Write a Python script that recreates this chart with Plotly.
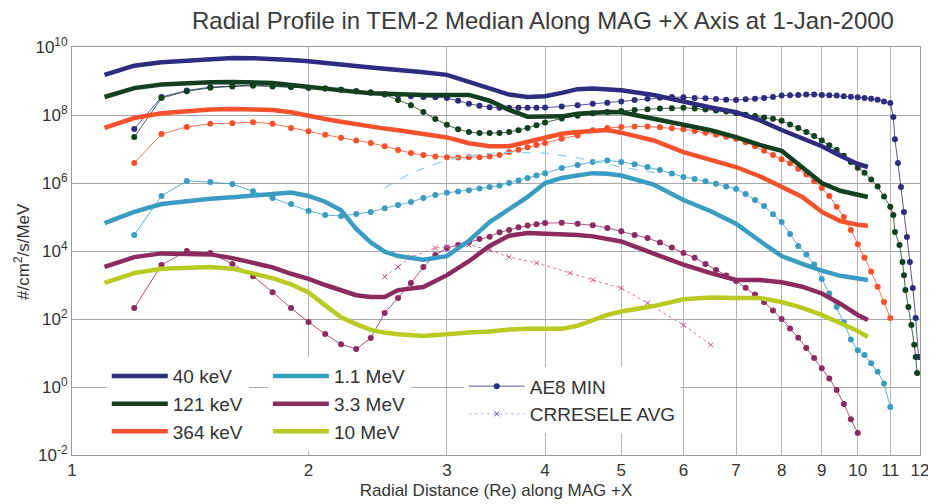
import plotly.graph_objects as go

FONT = "Liberation Sans, Arial, sans-serif"

# TEM-2 median profiles: radial distance (Re) and log10 flux (#/cm2/s/MeV)
r_median = [1.1, 1.2, 1.3, 1.4, 1.5, 1.6, 1.7, 1.8, 1.9, 2.0,
            2.1, 2.2, 2.3, 2.4, 2.5, 2.6, 2.8, 3.0,
            3.2, 3.4, 3.6, 3.8, 4.0, 4.2, 4.4, 4.6, 4.8, 5.0,
            5.5, 6.0, 6.5, 7.0, 7.5, 8.0, 8.5, 9.0, 9.5, 10.0, 10.3]
med_40kev = [9.18, 9.45, 9.55, 9.60, 9.65, 9.68, 9.67, 9.66, 9.62, 9.58,
             9.54, 9.50, 9.45, 9.40, 9.36, 9.33, 9.26, 9.18,
             8.98, 8.78, 8.60, 8.53, 8.55, 8.65, 8.76, 8.78, 8.76, 8.73,
             8.59, 8.38, 8.22, 8.08, 7.85, 7.56, 7.32, 7.08, 6.80, 6.56, 6.47]
med_121kev = [8.53, 8.79, 8.90, 8.94, 8.96, 8.97, 8.96, 8.94, 8.88, 8.82,
              8.77, 8.72, 8.68, 8.64, 8.62, 8.60, 8.59, 8.59,
              8.59, 8.42, 8.15, 7.95, 7.94, 7.96, 8.04, 8.08, 8.09, 8.08,
              7.88, 7.72, 7.55, 7.35, 7.12, 6.95, 6.47, 6.00, 5.77, 5.64, 5.59]
med_364kev = [7.62, 7.91, 8.05, 8.12, 8.16, 8.18, 8.18, 8.15, 8.08, 7.97,
              7.88, 7.80, 7.72, 7.66, 7.60, 7.55, 7.44, 7.34,
              7.17, 7.08, 7.08, 7.22, 7.35, 7.45, 7.50, 7.53, 7.56, 7.48,
              7.25, 6.91, 6.68, 6.47, 6.20, 5.88, 5.59, 5.15, 4.88, 4.77, 4.74]
med_1100kev = [4.82, 5.15, 5.38, 5.47, 5.54, 5.58, 5.62, 5.66, 5.72, 5.62,
               5.45, 5.20, 4.65, 4.25, 3.98, 3.85, 3.74, 3.85,
               4.30, 4.85, 5.22, 5.59, 6.00, 6.15, 6.22, 6.29, 6.27, 6.22,
               5.95, 5.50, 5.17, 4.80, 4.30, 3.85, 3.62, 3.42, 3.27, 3.18, 3.15]
med_3300kev = [3.53, 3.82, 3.93, 3.93, 3.90, 3.79, 3.66, 3.52, 3.33, 3.18,
               3.00, 2.85, 2.70, 2.65, 2.65, 2.85, 2.94, 3.29,
               3.70, 4.15, 4.45, 4.53, 4.52, 4.50, 4.47, 4.43, 4.35, 4.28,
               3.92, 3.60, 3.35, 3.15, 3.15, 3.08, 2.95, 2.75, 2.45, 2.12, 1.97]
med_10mev = [3.06, 3.35, 3.48, 3.52, 3.53, 3.48, 3.35, 3.20, 3.02, 2.78,
             2.40, 2.05, 1.85, 1.68, 1.60, 1.55, 1.50, 1.56,
             1.60, 1.63, 1.69, 1.71, 1.71, 1.71, 1.80, 1.98, 2.12, 2.22,
             2.38, 2.58, 2.63, 2.62, 2.62, 2.50, 2.33, 2.12, 1.88, 1.65, 1.47]

# AE8 MIN model: radial grid (Re) and log10 flux
r_ae8 = [1.2, 1.3, 1.4, 1.5, 1.6, 1.7, 1.8, 1.9, 2.0, 2.1,
         2.2, 2.3, 2.4, 2.5, 2.6, 2.7, 2.8, 2.9, 3.0, 3.1,
         3.2, 3.3, 3.4, 3.5, 3.6, 3.7, 3.8, 3.9, 4.0, 4.2,
         4.4, 4.6, 4.8, 5.0, 5.2, 5.4, 5.6, 5.8, 6.0, 6.2,
         6.4, 6.6, 6.8, 7.0, 7.2, 7.4, 7.6, 7.8, 8.0, 8.2,
         8.4, 8.6, 8.8, 9.0, 9.2, 9.4, 9.6, 9.8, 10.0, 10.2,
         10.4, 10.6, 10.8, 11.0]
ae8_40kev = [7.59, 8.53, 8.72, 8.82, 8.85, 8.88, 8.85, 8.82, 8.80, 8.78,
             8.74, 8.70, 8.66, 8.62, 8.58, 8.55, 8.53, 8.52, 8.50, 8.42,
             8.33, 8.27, 8.23, 8.21, 8.21, 8.21, 8.21, 8.21, 8.22, 8.25,
             8.29, 8.33, 8.36, 8.40, 8.44, 8.48, 8.51, 8.53, 8.52, 8.50,
             8.49, 8.47, 8.45, 8.44, 8.46, 8.48, 8.50, 8.53, 8.57, 8.58,
             8.59, 8.60, 8.60, 8.59, 8.58, 8.57, 8.55, 8.54, 8.52, 8.50,
             8.48, 8.45, 8.40, 8.35]
ae8_121kev = [7.35, 8.50, 8.70, 8.80, 8.84, 8.86, 8.84, 8.82, 8.80, 8.78,
              8.74, 8.70, 8.66, 8.60, 8.44, 8.29, 8.09, 7.88, 7.71, 7.58,
              7.50, 7.47, 7.47, 7.47, 7.50, 7.55, 7.62, 7.70, 7.78, 7.90,
              7.98, 8.05, 8.09, 8.12, 8.15, 8.17, 8.19, 8.20, 8.21, 8.19,
              8.16, 8.13, 8.10, 8.05, 8.01, 7.97, 7.93, 7.89, 7.83, 7.72,
              7.62, 7.50, 7.38, 7.25, 7.11, 6.97, 6.80, 6.62, 6.45, 6.30,
              6.10, 5.90, 5.60, 5.30]
ae8_364kev = [6.59, 7.44, 7.65, 7.74, 7.76, 7.79, 7.74, 7.62, 7.52, 7.42,
              7.33, 7.25, 7.18, 7.08, 6.97, 6.88, 6.82, 6.78, 6.76, 6.75,
              6.76, 6.76, 6.78, 6.82, 6.91, 6.98, 7.05, 7.12, 7.18, 7.30,
              7.40, 7.55, 7.62, 7.65, 7.66, 7.66, 7.64, 7.61, 7.58, 7.53,
              7.48, 7.42, 7.36, 7.30, 7.20, 7.08, 6.95, 6.82, 6.70, 6.58,
              6.42, 6.25, 6.05, 5.85, 5.62, 5.30, 5.00, 4.62, 4.20, 3.80,
              3.40, 2.95, 2.50, 2.03]
ae8_1100kev = [4.47, 5.62, 6.06, 6.03, 5.97, 5.76, 5.56, 5.38, 5.18, 5.06,
               5.03, 5.09, 5.15, 5.26, 5.35, 5.44, 5.56, 5.65, 5.71, 5.75,
               5.79, 5.84, 5.88, 5.93, 6.00, 6.07, 6.15, 6.22, 6.29, 6.44,
               6.53, 6.62, 6.66, 6.62, 6.55, 6.47, 6.38, 6.28, 6.18, 6.12,
               6.05, 5.98, 5.90, 5.82, 5.68, 5.50, 5.32, 5.08, 4.85, 4.50,
               4.15, 3.90, 3.60, 3.18, 2.75, 2.35, 1.90, 1.40, 1.08, 0.94,
               0.70, 0.45, 0.10, -0.59]
ae8_3300kev = [2.32, 3.59, 4.00, 3.94, 3.62, 3.26, 2.79, 2.32, 1.91, 1.56,
               1.26, 1.12, 1.44, 2.18, 2.62, 3.06, 3.53, 3.88, 4.09, 4.18,
               4.26, 4.35, 4.42, 4.55, 4.62, 4.70, 4.75, 4.79, 4.82, 4.83,
               4.80, 4.76, 4.68, 4.58, 4.47, 4.38, 4.25, 4.10, 3.94, 3.80,
               3.62, 3.44, 3.28, 3.12, 2.92, 2.72, 2.50, 2.25, 2.00, 1.72,
               1.45, 1.15, 0.85, 0.55, 0.25, -0.09, -0.50, -0.95, -1.35, None,
               None, None, None, None]

# AE8 MIN steep drop at the outer edge (40 keV and 121 keV)
r_ae8_40kev_tail = [11.1, 11.15, 11.25, 11.35, 11.45, 11.55, 11.65, 11.75, 11.85, 11.95]
ae8_40kev_tail = [7.94, 7.29, 6.59, 5.88, 5.15, 4.41, 3.68, 2.91, 2.03, 0.88]
r_ae8_121kev_tail = [11.1, 11.15, 11.3, 11.4, 11.45, 11.5, 11.6, 11.7, 11.8, 11.85, 11.9]
ae8_121kev_tail = [5.06, 4.56, 4.18, 3.68, 3.29, 2.85, 2.35, 1.82, 1.24, 0.88, 0.41]

# CRRESELE AVG model
r_crres_1100kev = [2.5, 2.7, 3.0, 3.3, 3.6, 4.0, 4.4, 4.8, 5.2, 5.6]
crres_1100kev = [5.85, 6.30, 6.68, 6.85, 6.90, 6.88, 6.74, 6.55, 6.40, 6.28]
r_crres_3300kev = [2.5, 2.6, 2.7, 2.9, 3.0, 3.2, 3.4, 3.6, 3.9, 4.3, 4.6, 5.0, 5.4, 6.0, 6.5]
crres_3300kev = [3.24, 3.53, 3.82, 4.09, 4.12, 4.18, 4.03, 3.82, 3.65, 3.35,
                 3.15, 2.91, 2.47, 1.82, 1.24]

energies = ["40 keV", "121 keV", "364 keV", "1.1 MeV", "3.3 MeV", "10 MeV"]
colors = ["#2d2c7e", "#123f1f", "#f4512c", "#3b9cc2", "#8c2b5d", "#b8cb22"]

x_ticks = [1, 2, 3, 4, 5, 6, 7, 8, 9, 10, 11, 12]
y_exponents = [10, 8, 6, 4, 2, 0, -2]


def to_flux(logs):
    return [None if v is None else 10 ** v for v in logs]


fig = go.Figure()

# AE8 MIN (dotted profiles)
ae8_sets = [
    (r_ae8 + r_ae8_40kev_tail, ae8_40kev + ae8_40kev_tail, colors[0]),
    (r_ae8 + r_ae8_121kev_tail, ae8_121kev + ae8_121kev_tail, colors[1]),
    (r_ae8, ae8_364kev, colors[2]),
    (r_ae8, ae8_1100kev, colors[3]),
    (r_ae8, ae8_3300kev, colors[4]),
]
for i, (r, lg, c) in enumerate(ae8_sets):
    fig.add_trace(go.Scatter(
        x=r, y=to_flux(lg), mode="lines+markers",
        name="AE8 MIN", legend="legend3", showlegend=(i == 0),
        line=dict(color=c, width=0.8),
        marker=dict(color=c, size=6),
    ))

# CRRESELE AVG (thin dashed with x markers)
fig.add_trace(go.Scatter(
    x=r_crres_1100kev, y=to_flux(crres_1100kev), mode="lines",
    line=dict(color="#8fcfe6", width=1.2, dash="dash"), showlegend=False,
))
fig.add_trace(go.Scatter(
    x=r_crres_3300kev, y=to_flux(crres_3300kev), mode="lines+markers",
    line=dict(color="#d878a2", width=1, dash="dot"),
    marker=dict(symbol="x-thin", size=5, color="#c0508a", line=dict(width=1, color="#c0508a")),
    showlegend=False,
))
fig.add_trace(go.Scatter(
    x=[None], y=[None], mode="lines+markers", name="CRRESELE AVG", legend="legend3",
    line=dict(color="#b4b4e4", width=1, dash="dot"),
    marker=dict(symbol="x-thin", size=5, color="#4a4aa8", line=dict(width=1, color="#4a4aa8")),
))

# TEM-2 median (solid)
medians = [med_40kev, med_121kev, med_364kev, med_1100kev, med_3300kev, med_10mev]
for i, (name, lg, c) in enumerate(zip(energies, medians, colors)):
    fig.add_trace(go.Scatter(
        x=r_median, y=to_flux(lg), mode="lines", name=name,
        legend="legend" if i < 3 else "legend2",
        line=dict(color=c, width=4.5),
    ))

legend_style = dict(
    bgcolor="white", borderwidth=0, yanchor="top", xanchor="left",
    font=dict(family=FONT, size=19, color="#333333"), tracegroupgap=0,
    itemwidth=56,
)

# the page adds an 8px body margin, so the figure is 8px smaller than the window
fig.update_layout(
    width=928, height=496,
    margin=dict(l=64, r=16, t=39, b=49, autoexpand=False),
    paper_bgcolor="white", plot_bgcolor="white",
    font=dict(family=FONT, color="#333333"),
    title=dict(
        text="Radial Profile in TEM-2 Median Along MAG +X Axis at 1-Jan-2000",
        x=0.5765, xanchor="center", xref="container",
        y=0.9746, yanchor="middle", yref="container",
        font=dict(size=24, color="#3a3a3a"),
    ),
    legend=dict(x=0.041, y=0.24, **legend_style),
    legend2=dict(x=0.231, y=0.24, **legend_style),
    legend3=dict(x=0.462, y=0.215, **legend_style),
    annotations=[dict(
        text="#/cm<sup>2</sup>/s/MeV", textangle=-90,
        xref="paper", yref="paper", x=-0.059, y=0.5,
        xanchor="center", yanchor="middle", showarrow=False,
        font=dict(size=17, color="#333333"),
    )],
)

fig.update_xaxes(
    type="log", range=[0, 1.0792], automargin=False,
    tickvals=x_ticks, ticktext=[str(v) for v in x_ticks],
    tickfont=dict(size=17, color="#333333"),
    showgrid=True, gridcolor="#b4b4b4", gridwidth=1,
    showline=True, linecolor="#9a9a9a", mirror=True, ticks="",
    zeroline=False,
    title=dict(text="Radial Distance (Re) along MAG +X", font=dict(size=17), standoff=4),
)
fig.update_yaxes(
    type="log", range=[-2, 10], automargin=False,
    tickvals=[10 ** e for e in y_exponents],
    ticktext=["10<sup>%d</sup>" % e for e in y_exponents],
    tickfont=dict(size=17, color="#333333"),
    showgrid=True, gridcolor="#a8a8a8", gridwidth=1,
    showline=True, linecolor="#9a9a9a", mirror=True, ticks="",
    zeroline=False,
)

fig.write_html("out.html")
